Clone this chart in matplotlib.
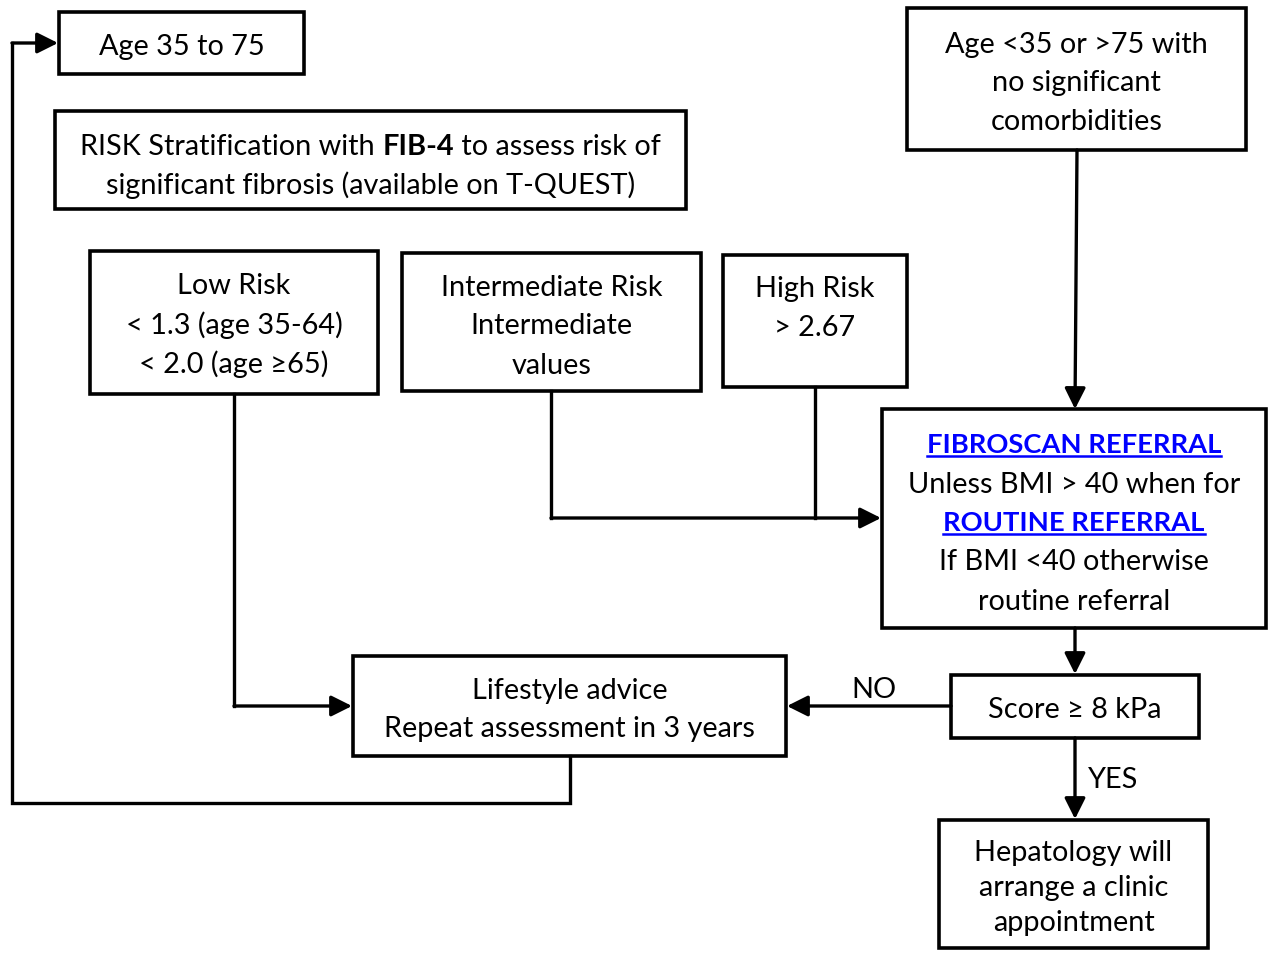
import matplotlib.pyplot as plt
from matplotlib.patches import Rectangle

plt.rcParams['font.family'] = ['Lato', 'DejaVu Sans']

# box texts (each line is a list of runs: (text, bold, blue-underlined))
age_in = [[('Age 35 to 75', False, False)]]
age_out = [[('Age <35 or >75 with', False, False)],
           [('no significant', False, False)],
           [('comorbidities', False, False)]]
risk = [[('RISK Stratification with ', False, False), ('FIB-4', True, False),
         (' to assess risk of', False, False)],
        [('significant fibrosis (available on T-QUEST)', False, False)]]
low = [[('Low Risk', False, False)], [('< 1.3 (age 35-64)', False, False)],
       [('< 2.0 (age \u226565)', False, False)]]
inter = [[('Intermediate Risk', False, False)], [('Intermediate', False, False)],
         [('values', False, False)]]
high = [[('High Risk', False, False)], [('> 2.67', False, False)]]
fibro = [[('FIBROSCAN REFERRAL', True, True)],
         [('Unless BMI > 40 when for', False, False)],
         [('ROUTINE REFERRAL', True, True)],
         [('If BMI <40 otherwise', False, False)],
         [('routine referral', False, False)]]
life = [[('Lifestyle advice', False, False)],
        [('Repeat assessment in 3 years', False, False)]]
score = [[('Score \u2265 8 kPa', False, False)]]
hepa = [[('Hepatology will', False, False)], [('arrange a clinic', False, False)],
        [('appointment', False, False)]]
edge_labels = ['NO', 'YES']

# layout in pixels: (x0, y0, x1, y1, first line y, line step)
layout = [
    (age_in, (59, 12, 304, 74, 44, 39)),
    (age_out, (907, 8, 1246, 150, 42, 38.5)),
    (risk, (55, 111, 686, 209, 144, 39)),
    (low, (90, 251, 378, 394, 283, 39.5)),
    (inter, (402, 253, 701, 391, 285, 39)),
    (high, (723, 255, 907, 387, 287, 39)),
    (fibro, (882, 409, 1266, 628, 443, 39)),
    (life, (353, 656, 786, 756, 688, 39)),
    (score, (951, 675, 1199, 738, 708, 39)),
    (hepa, (939, 820, 1208, 948, 850, 35.5)),
]

FS = 20.8
fig = plt.figure(figsize=(12.68, 9.56), dpi=100)
ax = fig.add_axes([0, 0, 1, 1])
ax.set_xlim(0, 1268)
ax.set_ylim(956, 0)
ax.axis('off')
renderer = fig.canvas.get_renderer()


def draw_line_runs(runs, cx, y):
    # measure each run, then lay them side by side, centred on cx
    widths = []
    for txt, bold, link in runs:
        fs = FS * 0.95 if link else FS
        t = ax.text(0, 0, txt, fontsize=fs, fontweight='bold' if bold else 'normal')
        bb = t.get_window_extent(renderer)
        widths.append(bb.width)
        t.remove()
    total = sum(widths)
    x = cx - total / 2
    for (txt, bold, link), w in zip(runs, widths):
        color = '#0000FF' if link else 'black'
        fs = FS * 0.95 if link else FS
        ax.text(x, y, txt, fontsize=fs, fontweight='bold' if bold else 'normal',
                color=color, ha='left', va='center_baseline')
        if link:
            ax.plot([x, x + w], [y + 13, y + 13], color=color, lw=1.8)
        x += w


for lines, (x0, y0, x1, y1, ly, step) in layout:
    ax.add_patch(Rectangle((x0, y0), x1 - x0, y1 - y0, fill=False,
                           edgecolor='black', lw=2.6))
    cx = (x0 + x1) / 2
    for i, runs in enumerate(lines):
        draw_line_runs(runs, cx, ly + i * step)

LW = 2.4


def path(pts):
    xs = [p[0] for p in pts[:-1]]
    ys = [p[1] for p in pts[:-1]]
    if len(xs) > 1:
        ax.plot(xs, ys, color='black', lw=LW, solid_joinstyle='miter')
    ax.annotate('', xy=pts[-1], xytext=pts[-2],
                arrowprops=dict(arrowstyle='-|>,head_length=0.7,head_width=0.35',
                                color='black', lw=LW, mutation_scale=18,
                                shrinkA=0, shrinkB=0))


path([(1077, 150), (1075, 409)])
path([(551, 391), (551, 518), (881, 518)])
ax.plot([815, 815], [387, 518], color='black', lw=LW)
path([(234, 394), (234, 706), (352, 706)])
path([(1075, 628), (1075, 674)])
path([(951, 706), (787, 706)])
path([(1075, 738), (1075, 819)])
path([(570, 756), (570, 803), (12, 803), (12, 43), (58, 43)])

ax.text(874, 688, edge_labels[0], fontsize=FS, ha='center', va='center_baseline')
ax.text(1113, 778, edge_labels[1], fontsize=FS, ha='center', va='center_baseline')

fig.savefig('out.png', dpi=100, facecolor='white')
